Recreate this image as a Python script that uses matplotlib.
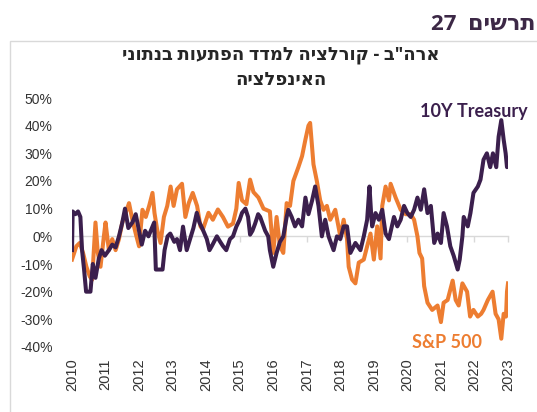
import matplotlib
matplotlib.use("Agg")
import matplotlib.pyplot as plt
from matplotlib.patches import Rectangle
from matplotlib.ticker import FuncFormatter

# ---- data (decimal years, correlation in %) ----
tsy_x = [2010.00, 2010.02, 2010.10, 2010.18, 2010.25, 2010.30, 2010.36, 2010.42, 2010.55, 2010.62,
         2010.70, 2010.80, 2010.88, 2010.98, 2011.10, 2011.20, 2011.30, 2011.40, 2011.50, 2011.58,
         2011.68, 2011.80, 2011.90, 2012.00, 2012.08, 2012.18, 2012.28, 2012.38, 2012.45, 2012.50,
         2012.60, 2012.70, 2012.76, 2012.85, 2012.93, 2013.05, 2013.13, 2013.22, 2013.31, 2013.42,
         2013.52, 2013.62, 2013.72, 2013.80, 2013.88, 2014.02, 2014.10, 2014.17, 2014.32, 2014.42,
         2014.50, 2014.60, 2014.71, 2014.80, 2014.90, 2015.00, 2015.07, 2015.17, 2015.25, 2015.31,
         2015.38, 2015.46, 2015.55, 2015.61, 2015.70, 2015.76, 2015.85, 2015.90, 2016.00, 2016.10,
         2016.20, 2016.30, 2016.40, 2016.45, 2016.55, 2016.65, 2016.75, 2016.86, 2016.96, 2017.05,
         2017.16, 2017.25, 2017.35, 2017.45, 2017.55, 2017.65, 2017.80, 2017.90, 2018.00, 2018.10,
         2018.20, 2018.30, 2018.45, 2018.60, 2018.70, 2018.80, 2018.87, 2018.92, 2018.95, 2019.05,
         2019.15, 2019.25, 2019.35, 2019.45, 2019.60, 2019.70, 2019.80, 2019.90, 2020.00, 2020.10,
         2020.20, 2020.30, 2020.40, 2020.50, 2020.60, 2020.70, 2020.80, 2020.90, 2021.00, 2021.08,
         2021.18, 2021.28, 2021.38, 2021.50, 2021.56, 2021.64, 2021.68, 2021.80, 2021.88, 2021.97,
         2022.10, 2022.18, 2022.27, 2022.37, 2022.47, 2022.55, 2022.65, 2022.72, 2022.80, 2022.87,
         2022.93, 2022.97, 2023.00]
tsy_y = [-5, 9, 8, 9, 7, -5, -12, -20, -20, -10,
         -15, -8, -5, -7, -5, -3, -4, 0, 5, 10,
         3, 5, 8, 2, -3, 2, 0, 3, 5, -12,
         -12, -12, -5, 0, 1, -2, -1, -5, 3.5, -5,
         -1, 3, 8.5, 5, 3, -1, -5, -3.5, 0, -2,
         -3.5, -5, -1, 0, 3.5, 6, 8.5, 10, 7, 0.6,
         2, 4.6, 8, 7, 4, 2, 0, -5, -11, -6,
         -2, 0, 7, 9.6, 7, 3.6, 6, 3.6, 14, 8,
         13, 18, 11, 0, 6, 0, -5, 0, -1, 3.6,
         3.6, -6, -2.4, -5, 0, 6, 18, 8, 3.6, 8.4,
         6, 9.6, 1, -1, 7, 3.6, 6, 11, 8.4, 7,
         9.6, 14, 9.6, 17, 8.4, 11, -2.4, 1, -2.4, 8.4,
         3.6, -3.6, -7, -12, -8.4, 0, 7, 3.6, 8.4, 15.7,
         18, 20.5, 27.7, 30, 25, 30, 25, 36, 42, 35,
         30, 25, 26]

spx_x = [2010.00, 2010.13, 2010.23, 2010.33, 2010.43, 2010.53, 2010.60, 2010.70, 2010.77, 2010.85,
         2010.95, 2011.00, 2011.10, 2011.20, 2011.30, 2011.40, 2011.50, 2011.60, 2011.70, 2011.80,
         2011.90, 2012.00, 2012.10, 2012.20, 2012.30, 2012.40, 2012.46, 2012.54, 2012.64, 2012.74,
         2012.84, 2012.94, 2013.03, 2013.13, 2013.28, 2013.38, 2013.48, 2013.60, 2013.73, 2013.83,
         2013.90, 2014.07, 2014.20, 2014.35, 2014.50, 2014.65, 2014.80, 2014.90, 2014.97, 2015.07,
         2015.20, 2015.31, 2015.41, 2015.56, 2015.71, 2015.90, 2016.00, 2016.10, 2016.20, 2016.30,
         2016.40, 2016.50, 2016.60, 2016.75, 2016.86, 2016.96, 2017.05, 2017.10, 2017.16, 2017.20,
         2017.30, 2017.40, 2017.50, 2017.60, 2017.70, 2017.85, 2018.00, 2018.10, 2018.20, 2018.25,
         2018.35, 2018.45, 2018.55, 2018.70, 2018.80, 2018.90, 2019.00, 2019.10, 2019.20, 2019.25,
         2019.35, 2019.45, 2019.50, 2019.65, 2019.80, 2019.95, 2020.10, 2020.20, 2020.30, 2020.36,
         2020.44, 2020.50, 2020.60, 2020.74, 2020.90, 2021.00, 2021.08, 2021.20, 2021.35, 2021.44,
         2021.53, 2021.64, 2021.78, 2021.87, 2021.97, 2022.10, 2022.20, 2022.27, 2022.40, 2022.54,
         2022.63, 2022.72, 2022.80, 2022.87, 2022.94, 2022.97, 2023.00]
spx_y = [-8.4, -3.6, -2.4, -6, -11, -14.5, -15.7, 5, -6, -11,
         0, 5, -5, -1, -5, -1, 5, 8.4, 12, 6,
         1, -3.6, 9.6, 7, 11, 15.7, 8.4, 2.4, -2.4, 7,
         11, 18, 11, 17, 19, 7, 12, 15.7, 11, 3.6,
         2.4, 8.5, 6, 9.7, 7, 3.5, 4.6, 10, 19.3, 13,
         11.6, 20.5, 16, 14, 10, 9, -6, 7, -3.5, -6,
         12, 11, 20, 25, 29, 35, 40, 41, 32, 26,
         20, 13, 9.6, 11, 6, 9.6, 0, 6, -1, -11,
         -15.6, -17, -9.5, -8.4, -3.6, 1, -8.4, 3.6, -8, 11,
         18, 13, 19, 14, 9.6, 8, 8, 6, 0, -6,
         -8, -18, -24, -26.6, -25, -31, -24, -23, -16, -23,
         -25, -17, -20, -29, -26.6, -29, -28, -26.6, -23, -20,
         -28, -30, -37, -28, -29, -20, -17]

years = list(range(2010, 2024))
y_ticks = [50, 40, 30, 20, 10, 0, -10, -20, -30, -40]

# Hebrew text given in visual (left-to-right glyph) order
fig_title = "27  " + "תרשים"[::-1]
chart_title_1 = "ארה\"ב - קורלציה למדד הפתעות בנתוני"[::-1]
chart_title_2 = "האינפלציה"[::-1]
label_tsy = "10Y Treasury"
label_spx = "S&P 500"

PURPLE = "#3b1f4d"
ORANGE = "#ed7d31"
TXT = "#333333"

W, H = 537, 412
fig = plt.figure(figsize=(W / 100, H / 100), dpi=100)

# outer frame
fig.patches.append(Rectangle((9.5 / W, -0.05), 1.1, 1 - 40.5 / H + 0.05, transform=fig.transFigure,
                             fill=False, edgecolor="#d9d9d9", linewidth=1.0))

ax = fig.add_axes([72 / W, 1 - 347 / H, (508 - 72) / W, (347 - 98) / H])
ymin, ymax = -40, 50
ax.set_ylim(ymin, ymax)
ax.set_xlim(2010, 2023)

ax.plot(spx_x, spx_y, color=ORANGE, lw=2.9, zorder=3, solid_joinstyle="round")
ax.plot(tsy_x, tsy_y, color=PURPLE, lw=2.9, zorder=4, solid_joinstyle="round")

for s in ax.spines.values():
    s.set_visible(False)

ax.set_yticks(y_ticks)
ax.yaxis.set_major_formatter(FuncFormatter(lambda v, p: f"{int(v)}%"))
ax.tick_params(axis="y", length=0, pad=14, labelsize=10, labelcolor=TXT)
for t in ax.get_yticklabels():
    t.set_fontfamily(["Liberation Sans", "DejaVu Sans"])

ax.set_xticks(years)
ax.set_xticklabels([str(y) for y in years], rotation=90, fontsize=10.5, color=TXT,
                   family=["Liberation Sans", "DejaVu Sans"])
ax.tick_params(axis="x", length=0, pad=8)

# zero line with tick marks
loc0 = (0 - ymin) / (ymax - ymin)
sec = ax.secondary_xaxis(loc0)
sec.set_xticks(years)
sec.set_xticklabels([])
sec.tick_params(axis="x", direction="out", length=4, color="#d9d9d9", width=1)
sec.spines["bottom"].set_color("#d9d9d9")
sec.spines["bottom"].set_linewidth(1)
sec.spines["top"].set_visible(False)

ax.text((528 - 72) / 436, (347 - 112) / 249, label_tsy, transform=ax.transAxes, ha="right",
        va="center", color=PURPLE, fontsize=13, fontweight="bold", family=["Lato", "DejaVu Sans"])
ax.text((482 - 72) / 436, (347 - 343) / 249, label_spx, transform=ax.transAxes, ha="right",
        va="center", color=ORANGE, fontsize=13, fontweight="bold", family=["Lato", "DejaVu Sans"])

fig.text(0.997, 1 - 25 / H, fig_title, ha="right", va="center", fontsize=16, fontweight="bold",
         color="#3c2846", family=["Open Sans", "DejaVu Sans"])
fig.text(281 / W, 1 - 55 / H, chart_title_1, ha="center", va="center", fontsize=13,
         fontweight="bold", color="#262626", family=["Open Sans", "DejaVu Sans"])
fig.text(281 / W, 1 - 80 / H, chart_title_2, ha="center", va="center", fontsize=13,
         fontweight="bold", color="#262626", family=["Open Sans", "DejaVu Sans"])

fig.savefig("out.png", dpi=100)
